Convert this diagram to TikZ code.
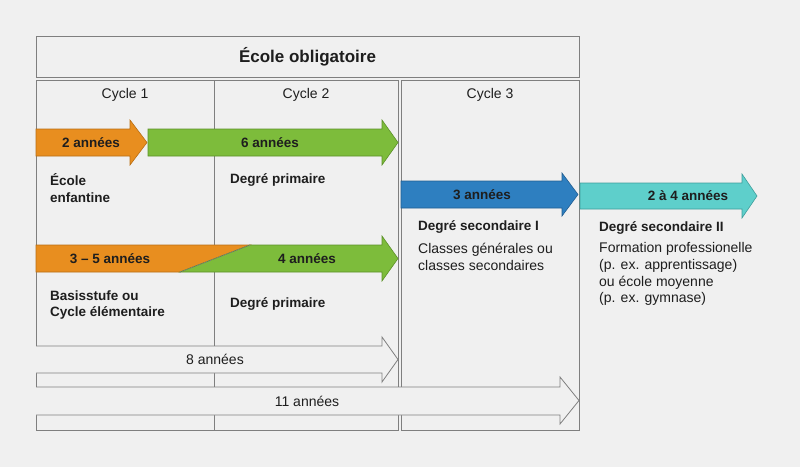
\documentclass[tikz,border=0pt]{standalone}
\usepackage{fontspec}
\setmainfont{Liberation Sans}
\usetikzlibrary{positioning}

\definecolor{paper}{HTML}{F0F0F0}
\definecolor{frame}{HTML}{7F7F7F}
\definecolor{ink}{HTML}{1E1E1E}
\definecolor{orangeA}{HTML}{E88E1F}
\definecolor{orangeB}{HTML}{B86E14}
\definecolor{greenA}{HTML}{7DBC3B}
\definecolor{greenB}{HTML}{5C9128}
\definecolor{blueA}{HTML}{2E7FC0}
\definecolor{blueB}{HTML}{215E92}
\definecolor{tealA}{HTML}{5ECFCB}
\definecolor{tealB}{HTML}{3E9E9B}

\begin{document}
\begin{tikzpicture}[x=1pt,y=-1pt,
  box/.style={draw=frame,line width=.8pt},
  hollow/.style={fill=paper,draw=frame,line width=.8pt},
  lbl/.style={font=\fontsize{14}{16.8}\selectfont,text=ink,inner sep=0pt},
  bold/.style={font=\bfseries\fontsize{13.5}{16.5}\selectfont,text=ink,inner sep=0pt},
  txt/.style={lbl,anchor=west,align=left},
  btxt/.style={bold,anchor=west,align=left}]

\useasboundingbox (0,0) rectangle (800,467);
\fill[paper] (0,0) rectangle (800,467);

% frames
\draw[box] (36,36) rectangle (579,77);
\draw[box] (36,80) rectangle (398,430);
\draw[box] (214,80) -- (214,430);
\draw[box] (401,80) rectangle (579,430);

\node[bold,font=\bfseries\fontsize{17}{20}\selectfont] (titre) at (307.5,57) {École obligatoire};
\node[lbl] (cycA) at (125,95) {Cycle 1};
\node[lbl] (cycB) at (306,95) {Cycle 2};
\node[lbl] (cycC) at (490,95) {Cycle 3};

% first row
\filldraw[fill=orangeA,draw=orangeB,line width=.6pt] (36,129)--(130,129)--(130,120)--(147,142.5)--(130,165)--(130,156)--(36,156)--cycle;
\filldraw[fill=greenA,draw=greenB,line width=.6pt] (148,129)--(382,129)--(382,120)--(398,142.5)--(382,165)--(382,156)--(148,156)--cycle;
\node[bold] (ansA) at (91,142.5) {2 années};
\node[bold] (ansB) at (270,142.5) {6 années};
\node[btxt] (enfantine) at (50,188) {École\\enfantine};
\node[btxt] (primA) at (230,180) {Degré primaire};

% second row
\filldraw[fill=orangeA,draw=orangeB,line width=.6pt] (36,245)--(250,245)--(180,272)--(36,272)--cycle;
\filldraw[fill=greenA,draw=greenB,line width=.6pt] (250,245)--(382,245)--(382,236)--(398,258.5)--(382,281)--(382,272)--(180,272)--cycle;
\draw[frame,densely dotted,line width=1pt] (180,272)--(250,245);
\node[bold] (ansC) at (110,259) {3 -- 5 années};
\node[bold] (ansD) at (307,259) {4 années};
\node[btxt] (basis) at (50,305) {Basisstufe ou\\Cycle élémentaire};
\node[btxt] (primB) at (230,304) {Degré primaire};

% totals
\filldraw[hollow] (36,346)--(382,346)--(382,337)--(398,359.5)--(382,382)--(382,373)--(36,373);
\node[lbl] (huit) at (215,359.5) {8 années};
\filldraw[hollow] (36,387)--(560,387)--(560,377)--(579,400.5)--(560,424)--(560,415)--(36,415);
\node[lbl] (onze) at (307,401) {11 années};

% secondary
\filldraw[fill=blueA,draw=blueB,line width=.6pt] (401,181)--(562,181)--(562,173)--(578,194.5)--(562,216)--(562,208)--(401,208)--cycle;
\node[bold] (ansE) at (482,195) {3 années};
\node[btxt] (secA) at (418,227) {Degré secondaire I};
\node[txt] (classes) at (418,257) {Classes générales ou\\classes secondaires};

\filldraw[fill=tealA,draw=tealB,line width=.6pt] (580,183)--(742,183)--(742,174)--(757,196)--(742,218)--(742,209)--(580,209)--cycle;
\node[bold] (ansF) at (688,196) {2 à 4 années};
\node[btxt] (secB) at (599,228) {Degré secondaire II};
\node[txt] (formation) at (599,274) {Formation professionelle\\(p. ex. apprentissage)\\ou école moyenne\\(p. ex. gymnase)};

\end{tikzpicture}
\end{document}
